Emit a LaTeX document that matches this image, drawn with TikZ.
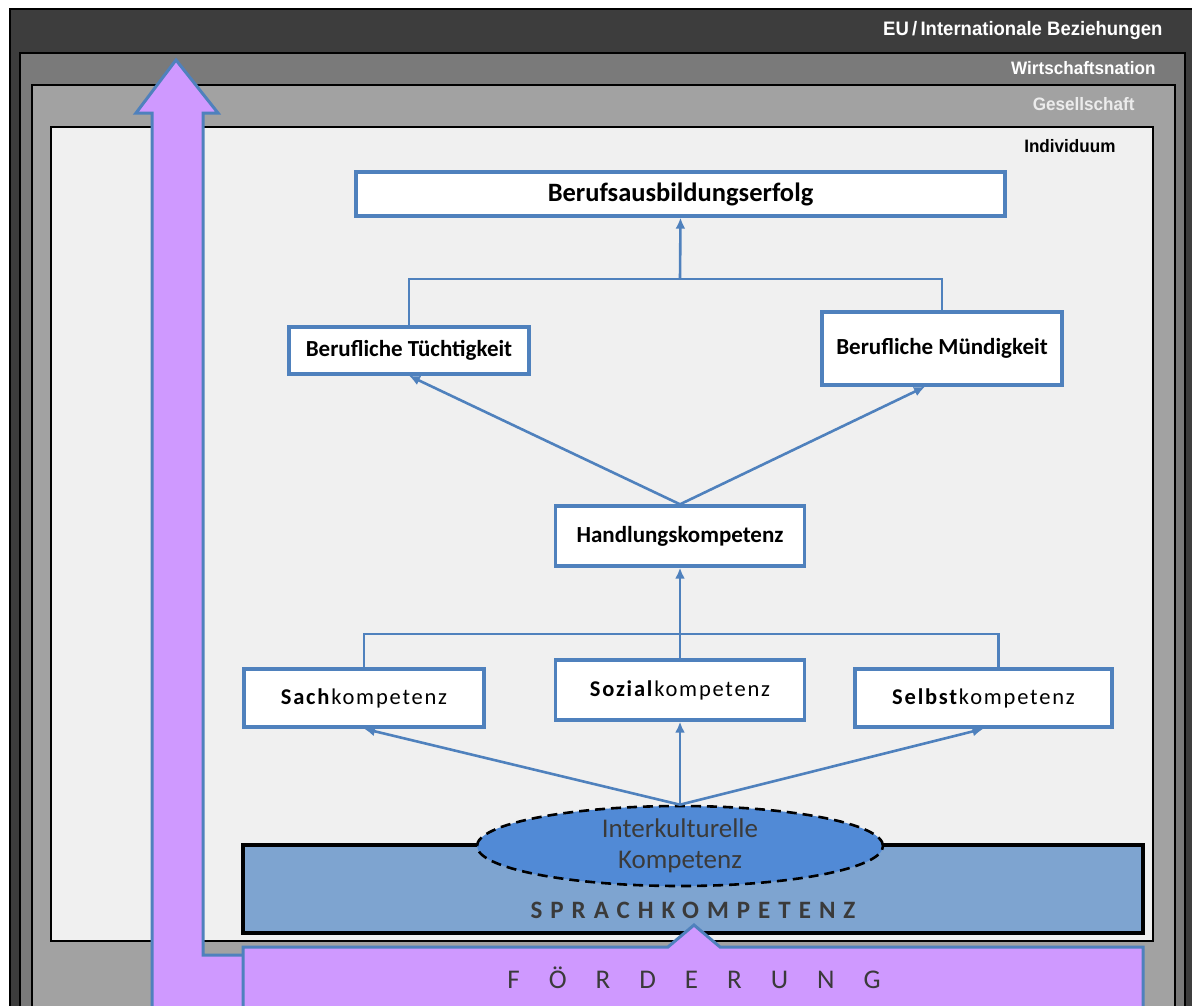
\documentclass[tikz,border=0pt]{standalone}
\usepackage{fontspec}
\setmainfont{Carlito}
\newfontfamily\framefont[FakeStretch=0.95]{Liberation Sans}
\newfontfamily\widefont[LetterSpace=32]{Carlito}
\newfontfamily\kompfont[LetterSpace=8]{Carlito}
\usetikzlibrary{shapes.geometric,arrows.meta}

\definecolor{euGray}{HTML}{3D3D3D}
\definecolor{wnGray}{HTML}{7A7A7A}
\definecolor{gsGray}{HTML}{A2A2A2}
\definecolor{indGray}{HTML}{F0F0F0}
\definecolor{boxBlue}{HTML}{4F81BD}
\definecolor{ovalBlue}{HTML}{518AD6}
\definecolor{sprachBlue}{HTML}{7EA4D0}
\definecolor{foerdPurple}{HTML}{CF99FF}
\definecolor{letterGray}{HTML}{3A3A3A}

\begin{document}
\begin{tikzpicture}[x=1pt,y=-1pt,
    box/.style={draw=boxBlue, line width=3.4pt, fill=white, inner sep=0pt,
        font=\bfseries\fontsize{23}{26}\selectfont},
    kompbox/.style={box, font=\kompfont\fontsize{22.5}{26}\selectfont},
    link/.style={draw=boxBlue, line width=2.6pt},
    arr/.style={link, -{Latex[length=11pt,width=10pt]}},
    framelabel/.style={anchor=east, font=\framefont\bfseries\fontsize{18}{20}\selectfont}]
    \useasboundingbox (0,0) rectangle (1192,1005);
    \clip (0,0) rectangle (1192,1005);

    % nested frames
    \fill[white] (0,0) rectangle (1192,1005);
    \draw[fill=euGray, line width=1.2pt] (10,9) rectangle (1200,1020);
    \draw[fill=wnGray, line width=1.2pt] (20,53) rectangle (1185,1020);
    \draw[fill=gsGray, line width=1.2pt] (32,85) rectangle (1175,1020);
    \draw[fill=indGray, line width=1.2pt] (51,127) rectangle (1153,941);

    \node[framelabel, text=white, font=\framefont\bfseries\fontsize{19.5}{22}\selectfont] (eu) at (1166,30) {EU\,/\,Internationale Beziehungen};
    \node[framelabel, text=white] (wn) at (1159,68) {Wirtschaftsnation};
    \node[framelabel, text=gray!15] (gs) at (1138,104) {Gesellschaft};
    \node[framelabel, text=black] (ind) at (1119,146) {Individuum};

    % language base
    \draw[fill=sprachBlue, line width=3.5pt] (243,845) rectangle (1143,933);
    \node[text=letterGray, font=\widefont\bfseries\fontsize{25}{28}\selectfont] (sprach) at (693,910) {SPRACHKOMPETENZ};
    \node[ellipse, draw, dash pattern=on 10pt off 6pt, line width=2.6pt, fill=ovalBlue, minimum width=406pt, minimum height=80pt,
        inner sep=0pt, align=center, text=letterGray, font=\fontsize{27}{31}\selectfont] (interk) at (680,846) {Interkulturelle\\Kompetenz};

    % boxes
    \node[box, minimum width=649pt, minimum height=44pt, font=\bfseries\fontsize{26.5}{30}\selectfont] (erfolg) at (680.5,194) {Berufsausbildungserfolg};
    \node[box, minimum width=240pt, minimum height=47pt] (tuecht) at (409,350.5) {Berufliche Tüchtigkeit};
    \node[box, minimum width=240pt, minimum height=73pt] (muend) at (942,348.5) {Berufliche Mündigkeit};
    \node[box, minimum width=249pt, minimum height=60pt] (handl) at (680,536) {Handlungskompetenz};
    \node[kompbox, minimum width=240pt, minimum height=58pt] (sach) at (364,698) {\textbf{Sach}kompetenz};
    \node[kompbox, minimum width=249pt, minimum height=60pt] (sozial) at (680,690) {\textbf{Sozial}kompetenz};
    \node[kompbox, minimum width=257pt, minimum height=58pt] (selbst) at (983.5,698) {\textbf{Selbst}kompetenz};

    \coordinate (topJoin) at (680,279);
    \coordinate (kompJoin) at (680,634);

    % connectors
    \draw[link] (tuecht.north) |- (topJoin) -| (muend.north);
    \draw[arr] (topJoin) -- (erfolg.south);
    \draw[arr] (handl.north) -- (tuecht.south);
    \draw[arr] (handl.north) -- ([xshift=-17pt]muend.south);
    \draw[link] (sach.north) |- (kompJoin) -| ([xshift=15pt]selbst.north);
    \draw[link] (sozial.north) -- (kompJoin);
    \draw[arr] (kompJoin) -- (handl.south);
    \draw[arr] (interk.north) -- (sach.south);
    \draw[arr] (interk.north) -- (sozial.south);
    \draw[arr] (interk.north) -- (selbst.south);

    % support arrow
    \draw[fill=foerdPurple, draw=boxBlue, line width=3pt, line join=miter]
        (152,1015) -- (152,113) -- (136,113) -- (176,60) -- (218,113) -- (203,113)
        -- (203,955) -- (260,955) -- (260,1015) -- cycle;
    \draw[fill=foerdPurple, draw=boxBlue, line width=3pt]
        (243,1015) -- (243,947) -- (668,947) -- (694,925) -- (720,947) -- (1143,947) -- (1143,1015) -- cycle;
    \node[text=letterGray, font=\fontsize{27}{30}\selectfont] (foerd) at (694,978)
        {F\hspace{29pt}Ö\hspace{29pt}R\hspace{29pt}D\hspace{29pt}E\hspace{29pt}R\hspace{29pt}U\hspace{29pt}N\hspace{29pt}G};
\end{tikzpicture}
\end{document}
